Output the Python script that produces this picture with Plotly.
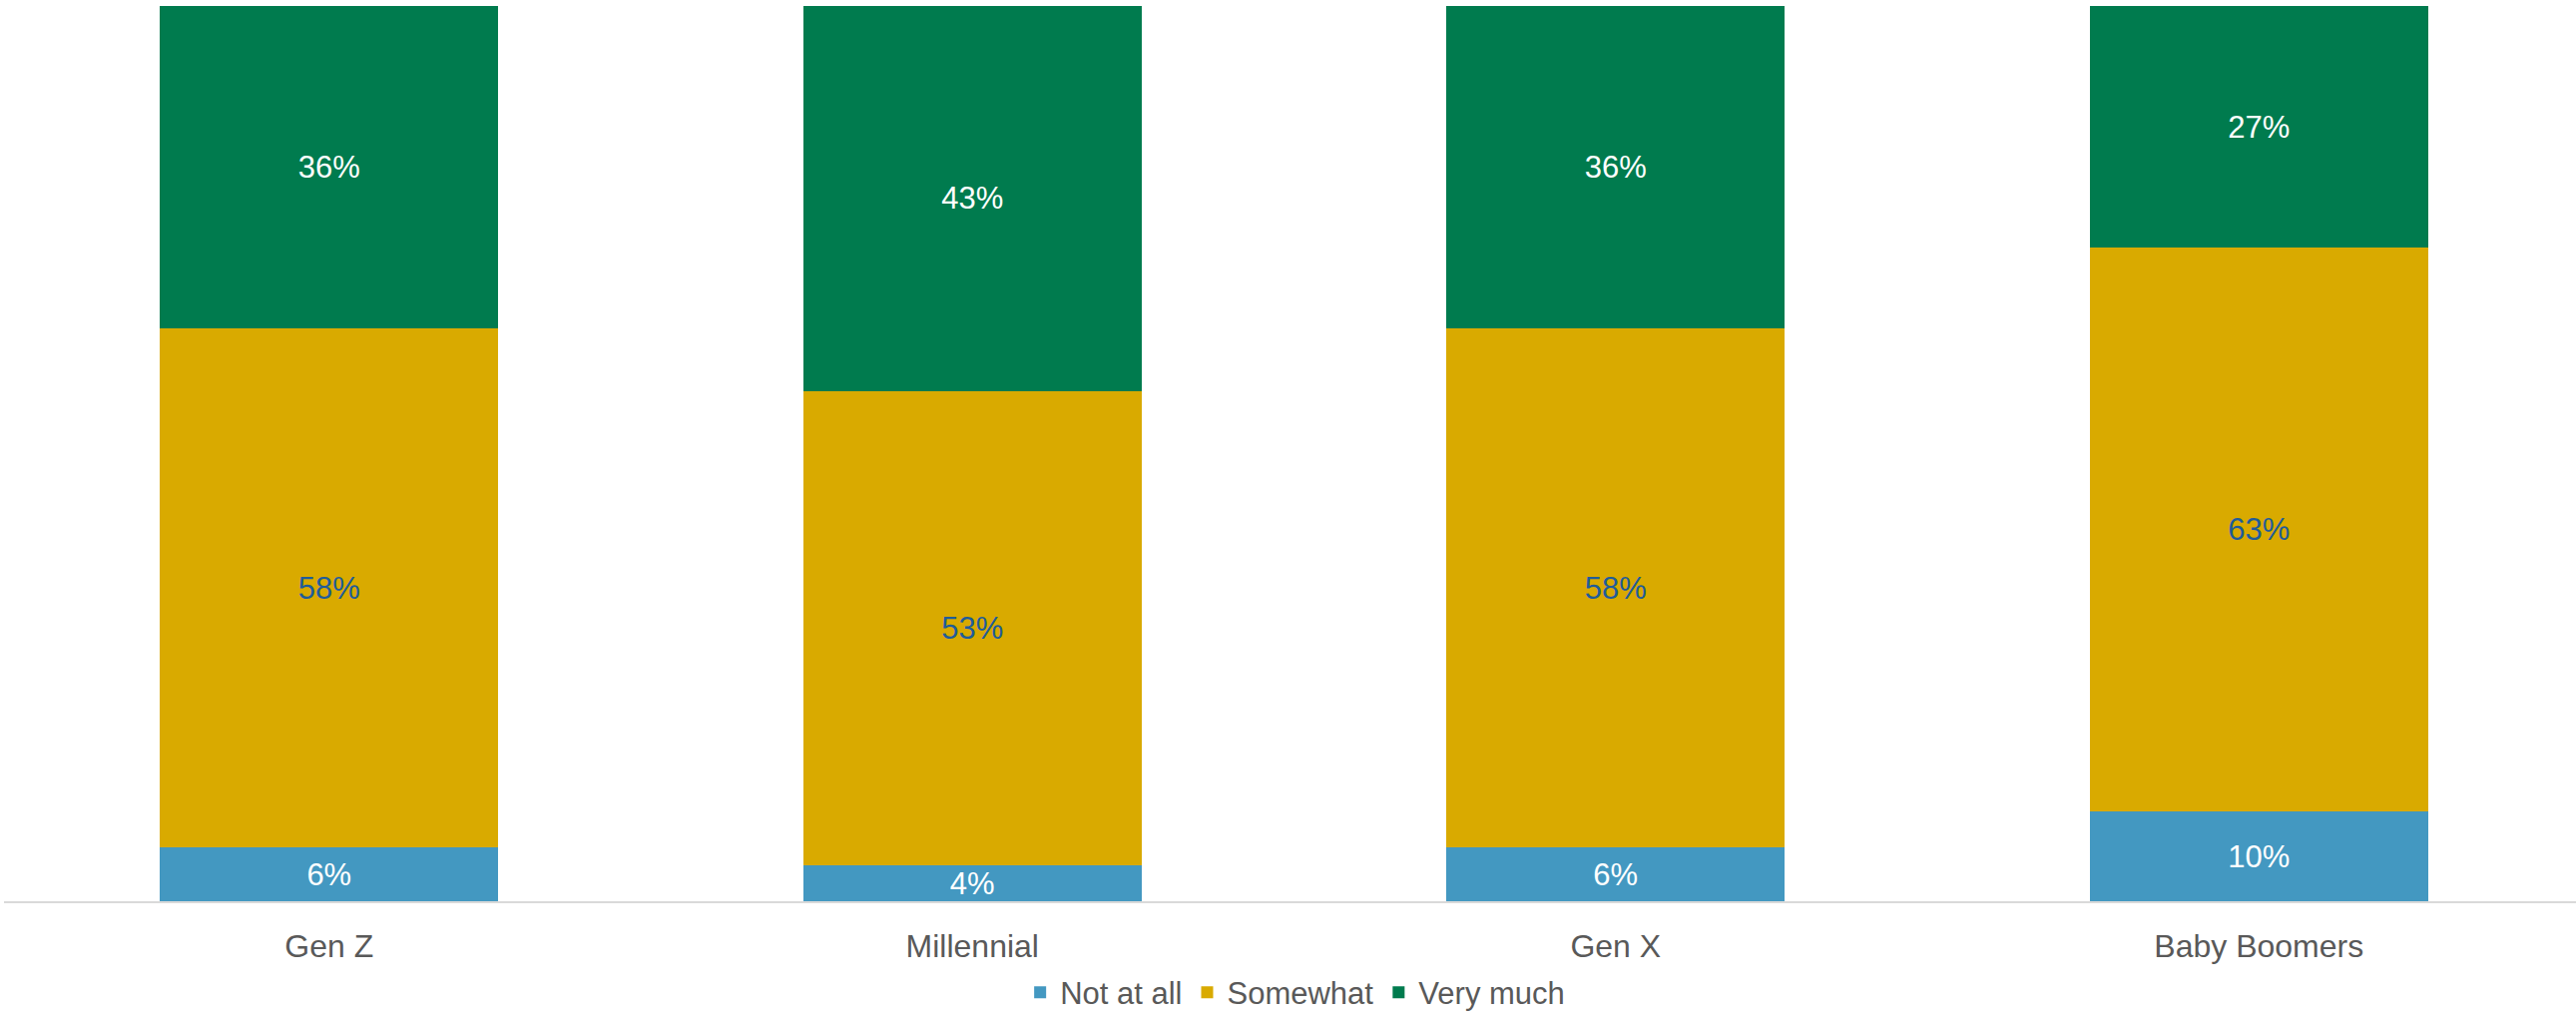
import plotly.graph_objects as go

# Survey responses by generation (percent of respondents)
generations = ["Gen Z", "Millennial", "Gen X", "Baby Boomers"]
not_at_all = [6, 4, 6, 10]
somewhat = [58, 53, 58, 63]
very_much = [36, 43, 36, 27]

series = [
    ("Not at all", not_at_all, "#4398C1", "#FFFFFF"),
    ("Somewhat", somewhat, "#D9AA00", "#1F5C99"),
    ("Very much", very_much, "#007B4E", "#FFFFFF"),
]

FONT = "Liberation Sans, Arial, sans-serif"

fig = go.Figure()
for name, vals, color, txtcolor in series:
    fig.add_trace(go.Bar(
        name=name,
        x=generations,
        y=vals,
        marker=dict(color=color, line=dict(width=0)),
        text=[f"{v}%" for v in vals],
        textposition="inside",
        insidetextanchor="middle",
        constraintext="none",
        textangle=0,
        textfont=dict(family=FONT, size=31, color=txtcolor),
        hoverinfo="skip",
    ))

fig.update_layout(
    barmode="stack",
    bargap=0.474,
    width=2581,
    height=1017,
    margin=dict(l=4, r=0, t=6, b=114, autoexpand=False),
    paper_bgcolor="white",
    plot_bgcolor="white",
    font=dict(family=FONT, size=31, color="#595959"),
    showlegend=True,
    legend=dict(
        orientation="h",
        x=0.502, xanchor="center",
        y=-0.102, yanchor="middle",
        font=dict(family=FONT, size=31, color="#595959"),
        traceorder="normal",
        itemwidth=30,
        tracegroupgap=0,
    ),
    xaxis=dict(
        range=[-0.5055, 3.493],
        showline=True, linecolor="#D9D9D9", linewidth=2,
        showgrid=False, ticks="", ticklabelstandoff=16,
        tickfont=dict(family=FONT, size=32, color="#595959"),
    ),
    yaxis=dict(
        range=[0, 100], visible=False, showgrid=False, zeroline=False,
    ),
)

fig.write_html("out.html")
